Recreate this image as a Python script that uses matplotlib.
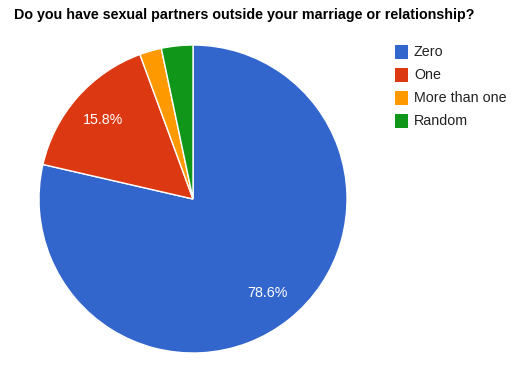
import matplotlib.pyplot as plt
from matplotlib.patches import Rectangle

plt.rcParams['font.family'] = ['Liberation Sans', 'DejaVu Sans']

labels = ["Zero", "One", "More than one", "Random"]
values = [78.6, 15.8, 2.3, 3.3]
colors = ["#3366cc", "#dc3912", "#ff9900", "#109618"]

fig = plt.figure(figsize=(5.25, 3.73), dpi=100)
ax = fig.add_axes([0.0743, 0.0536, 0.5867, 0.8257])

def fmt(p):
    return f"{p:.1f}%" if p > 5 else ""

wedges, texts, autotexts = ax.pie(values, colors=colors, startangle=90, counterclock=False,
                                  autopct=fmt, pctdistance=0.78,
                                  wedgeprops=dict(edgecolor="white", linewidth=1),
                                  textprops=dict(color="white", fontsize=10.3))
ax.set_xlim(-1, 1)
ax.set_ylim(-1, 1)
ax.set_aspect("auto")

fig.text(14 / 525, 1 - 15 / 373, "Do you have sexual partners outside your marriage or relationship?",
         fontsize=10.3, fontweight="bold", va="center", ha="left")

for i, (lab, c) in enumerate(zip(labels, colors)):
    yc = 52 + i * 23
    fig.patches.append(Rectangle((395 / 525, 1 - (yc + 6.5) / 373), 13 / 525, 13 / 373,
                                 transform=fig.transFigure, facecolor=c, edgecolor="none"))
    fig.text(414 / 525, 1 - yc / 373, lab, fontsize=10.3, va="center", ha="left", color="#222222")

fig.savefig("out.png", dpi=100)
